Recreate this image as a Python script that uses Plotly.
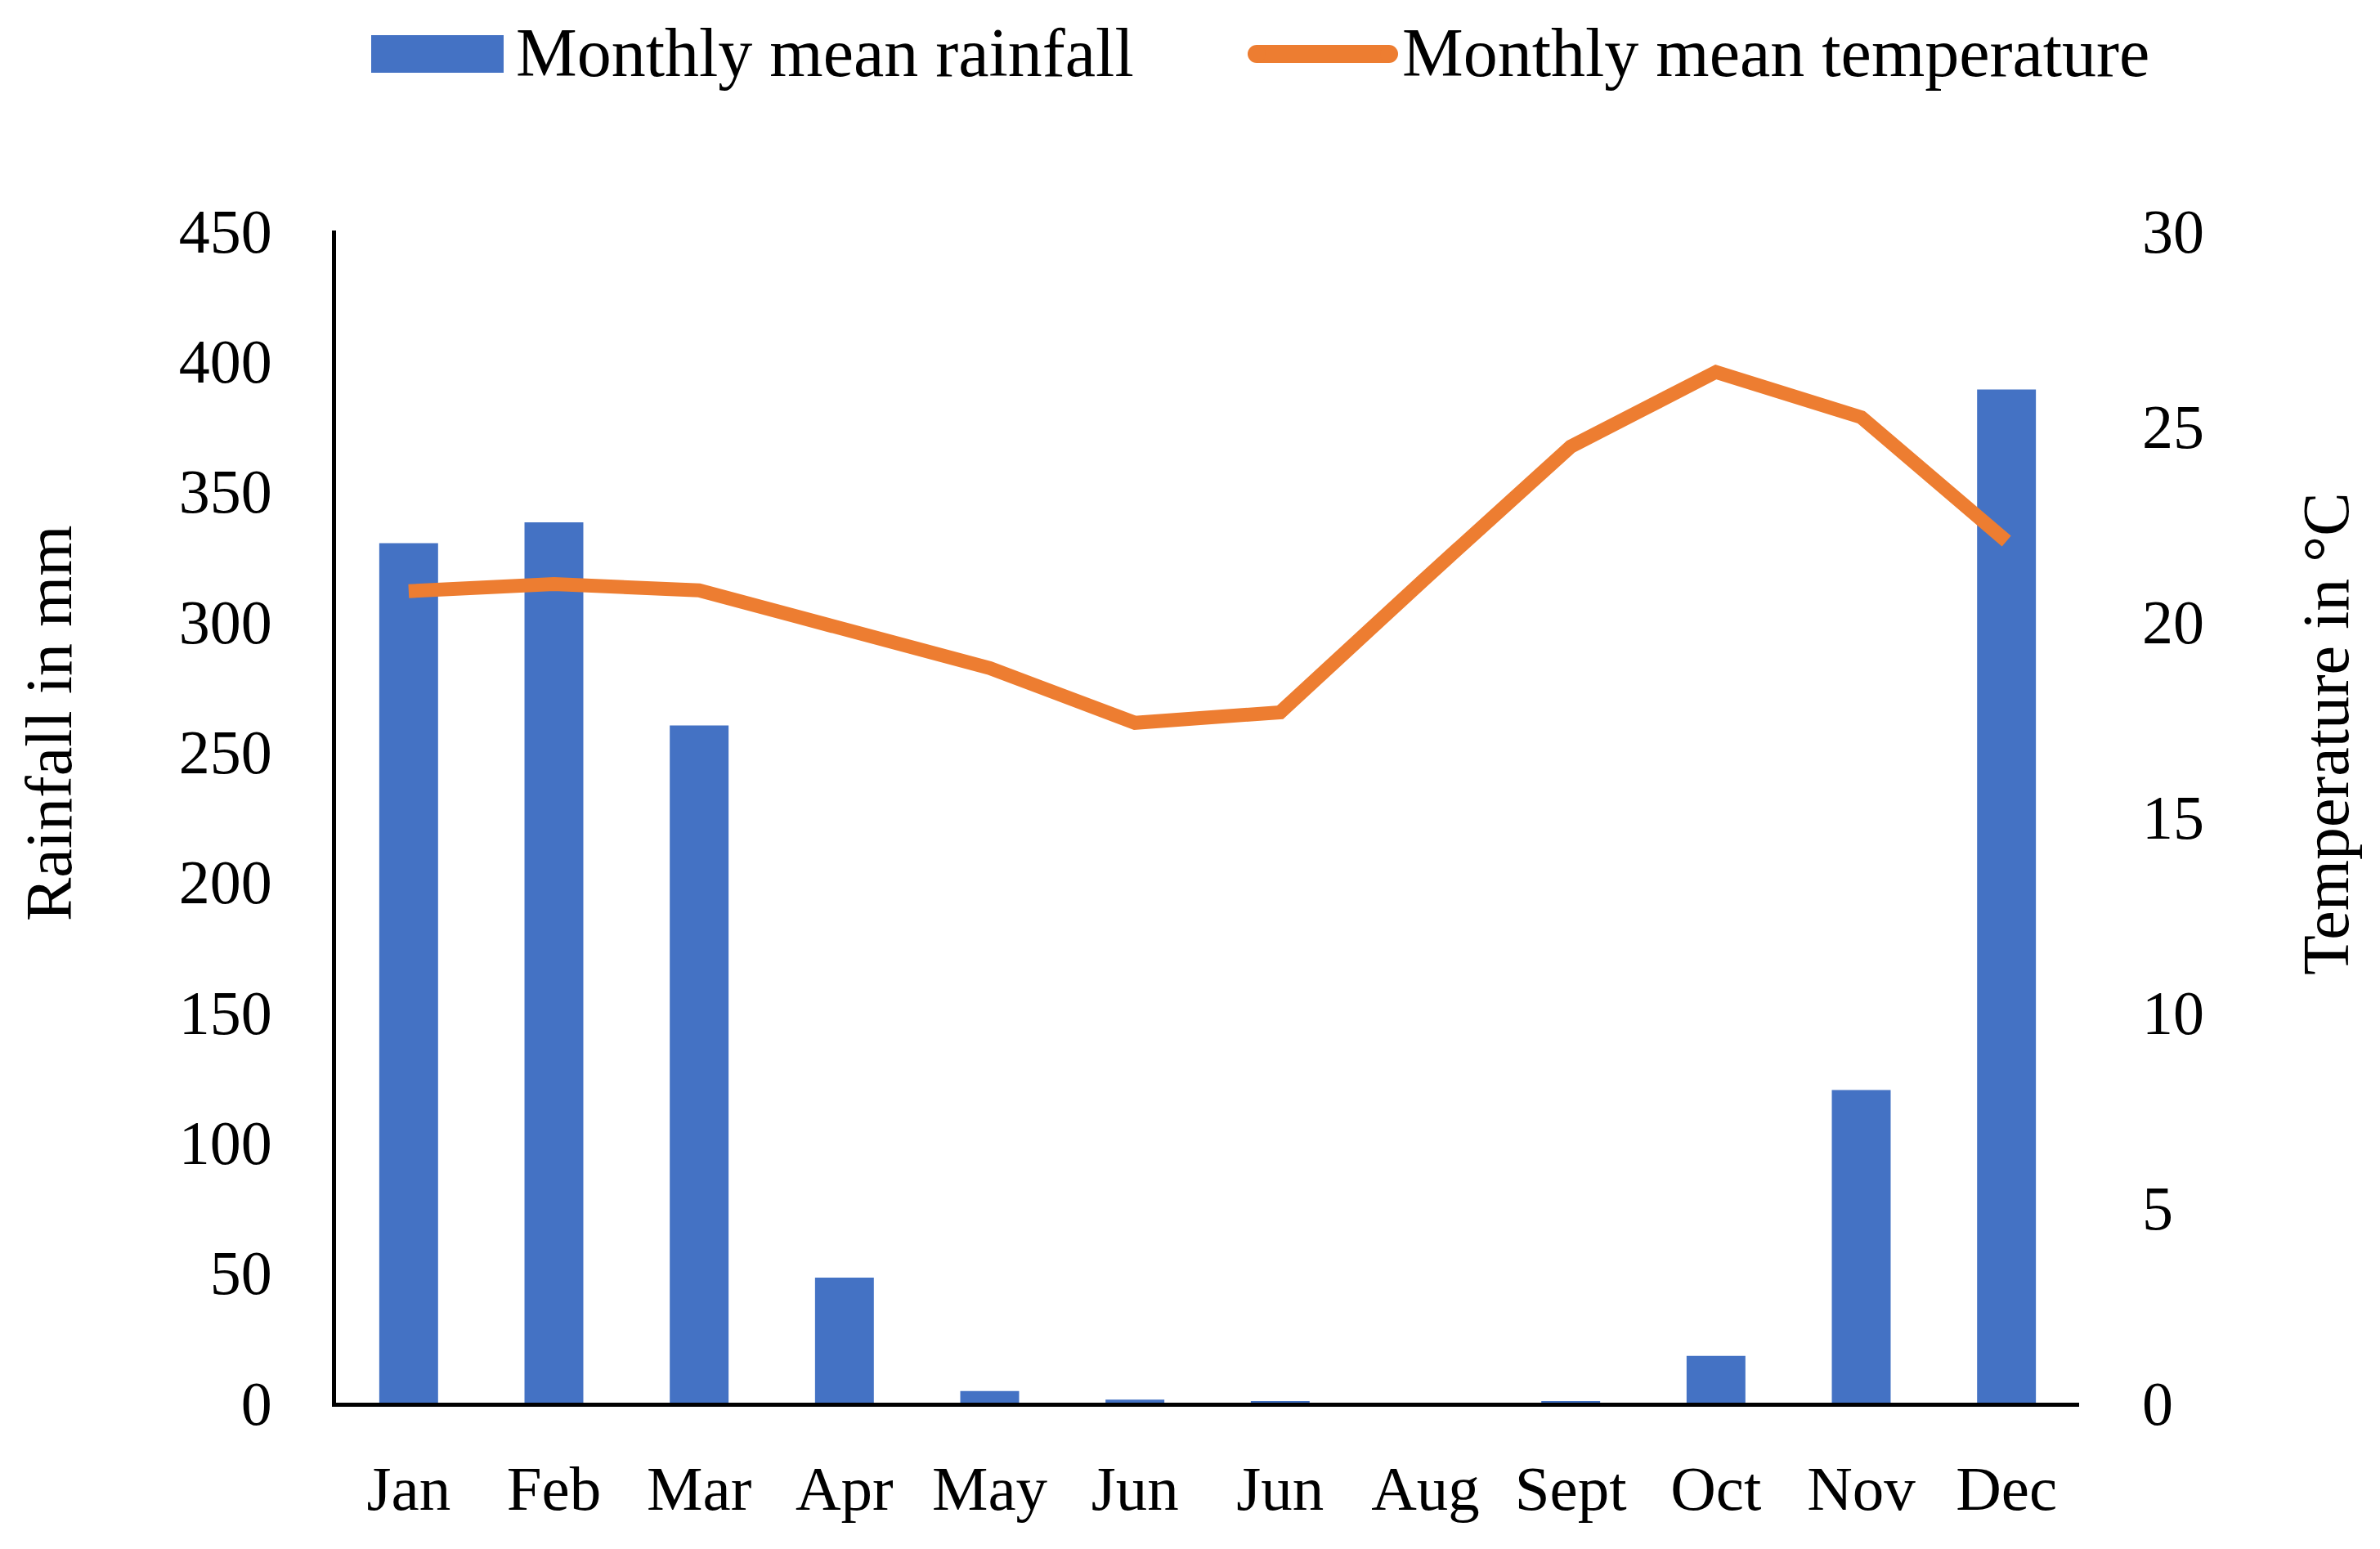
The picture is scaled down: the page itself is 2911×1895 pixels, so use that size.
import plotly.graph_objects as go

# data
months = ["Jan", "Feb", "Mar", "Apr", "May", "Jun", "Jun", "Aug", "Sept", "Oct", "Nov", "Dec"]
rainfall_mm = [330, 338, 260, 48, 4.5, 1.2, 0.5, 0, 0.5, 18, 120, 389]
temperature_c = [20.77, 20.95, 20.79, 19.8, 18.8, 17.4, 17.67, 21.1, 24.47, 26.38, 25.22, 22.05]

rain_ticks = list(range(0, 451, 50))
temp_ticks = list(range(0, 31, 5))

BLUE = "#4472C4"
ORANGE = "#ED7D31"
FONT = "Palatino Linotype, Book Antiqua, Palatino, Liberation Serif, serif"

W, H = 2911, 1895
# plot area wanted at l=408, t=282 in the screenshot; the page body shifts it a bit
OFFX, OFFY = 5, 8
L, R, T, B = 408 - OFFX, 371 + OFFX, 282 - OFFY, 179 + OFFY
x = list(range(len(months)))  # months repeat ("Jun" twice), so use positions + ticktext


def px(xp, yp):
    # pixel in the picture -> paper coords of the plot area
    return (xp - L - OFFX) / (W - L - R), (H - B + OFFY - yp) / (H - T - B)


fig = go.Figure()
fig.add_trace(go.Bar(x=x, y=rainfall_mm, name="Monthly mean rainfall",
                     marker_color=BLUE, marker_line_width=0, yaxis="y"))
fig.add_trace(go.Scatter(x=x, y=temperature_c, name="Monthly mean temperature",
                         mode="lines", line=dict(color=ORANGE, width=17), yaxis="y2"))

fig.update_layout(
    width=W, height=H,
    margin=dict(l=L, r=R, t=T, b=B),
    paper_bgcolor="white", plot_bgcolor="white",
    font=dict(family=FONT, size=76, color="black"),
    showlegend=False,
    bargap=0.595,
    xaxis=dict(range=[-0.5, 11.5], tickvals=x, ticktext=months,
               showline=True, linecolor="black", linewidth=5,
               showgrid=False, zeroline=False, ticks="",
               ticklabelstandoff=34, tickfont=dict(size=77)),
    yaxis=dict(range=[0, 450], tickvals=rain_ticks,
               showline=True, linecolor="black", linewidth=5,
               showgrid=False, zeroline=False, ticks="",
               ticklabelstandoff=58),
    yaxis2=dict(range=[0, 30], tickvals=temp_ticks, overlaying="y", side="right",
                showline=False, showgrid=False, zeroline=False, ticks="",
                ticklabelstandoff=76),
)

# legend drawn by hand so the keys get their big size
x0, y0 = px(451, 89)
x1, y1 = px(613, 43)
fig.add_shape(type="rect", xref="paper", yref="paper", x0=x0, x1=x1, y0=y0, y1=y1,
              fillcolor=BLUE, line_width=0)
lx0, ly = px(1534, 66)
lx1, _ = px(1696, 66)
fig.add_shape(type="line", xref="paper", yref="paper", x0=lx0, x1=lx1, y0=ly, y1=ly,
              line=dict(color=ORANGE, width=22))
for cx in (1534, 1696):
    ex0, ey0 = px(cx - 11, 77)
    ex1, ey1 = px(cx + 11, 55)
    fig.add_shape(type="circle", xref="paper", yref="paper", x0=ex0, x1=ex1, y0=ey0, y1=ey1,
                  fillcolor=ORANGE, line_width=0)
tx, ty = px(626, 64)
fig.add_annotation(text="Monthly mean rainfall", xref="paper", yref="paper", x=tx, y=ty,
                   xanchor="left", yanchor="middle", showarrow=False, font=dict(size=84))
tx, ty = px(1710, 64)
fig.add_annotation(text="Monthly mean temperature", xref="paper", yref="paper", x=tx, y=ty,
                   xanchor="left", yanchor="middle", showarrow=False, font=dict(size=84))

# axis titles sit above the middle of the axis, so place them as annotations
ax, ay = px(57, 885)
fig.add_annotation(text="Rainfall in mm", xref="paper", yref="paper", x=ax, y=ay,
                   xanchor="center", yanchor="middle",
                   textangle=-90, showarrow=False, font=dict(size=80))
ax, ay = px(2842, 898)
fig.add_annotation(text="Temperature in °C", xref="paper", yref="paper", x=ax, y=ay,
                   xanchor="center", yanchor="middle",
                   textangle=-90, showarrow=False, font=dict(size=80))

fig.write_html("out.html")
